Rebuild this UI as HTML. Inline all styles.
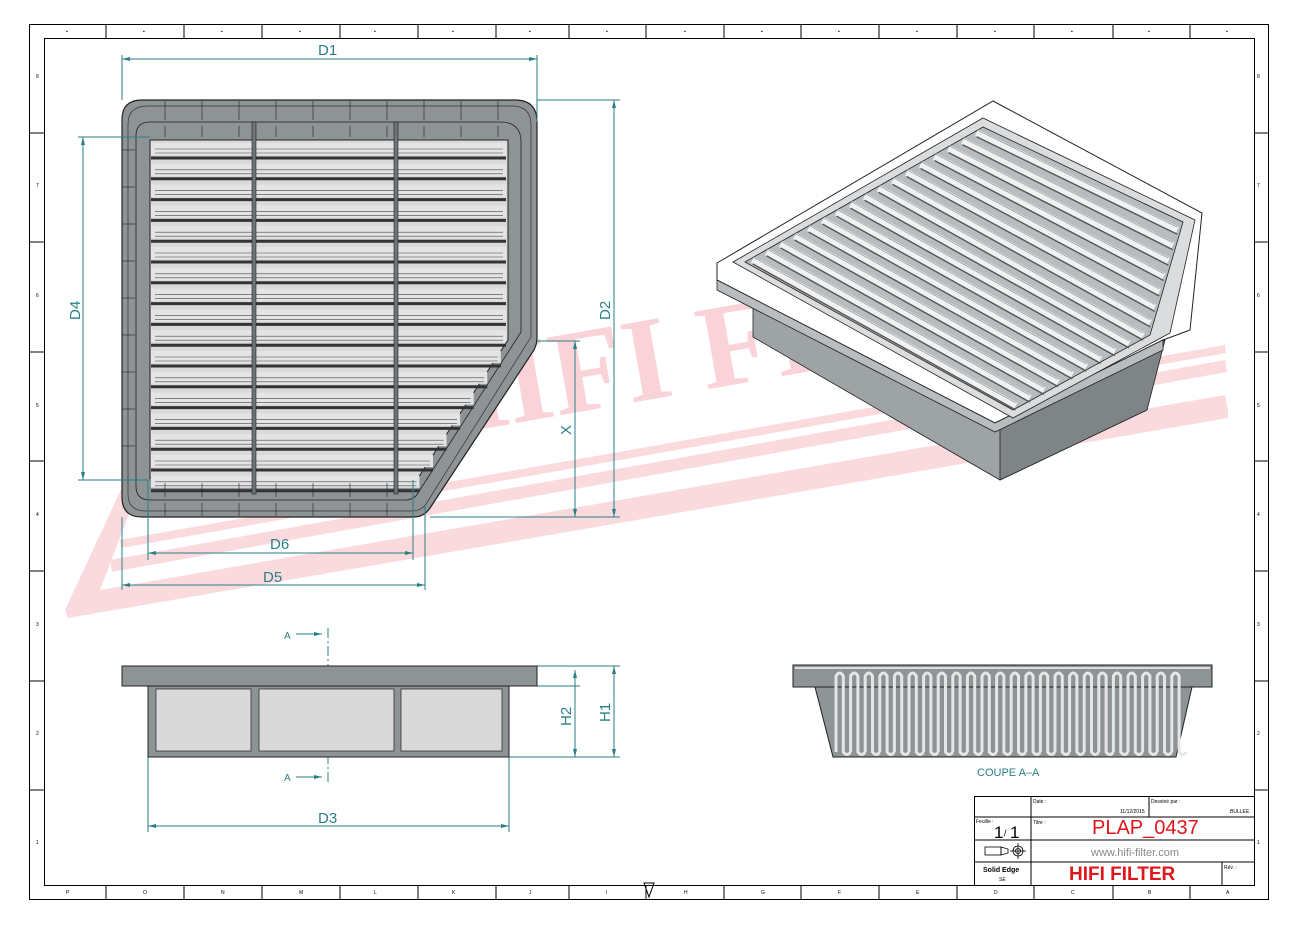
<!DOCTYPE html>
<html><head><meta charset="utf-8"><style>
html,body{margin:0;padding:0;background:#fff;}
svg{display:block;font-family:"Liberation Sans",sans-serif;}
</style></head><body>
<svg id="s" width="1300" height="926" viewBox="0 0 1300 926" xmlns="http://www.w3.org/2000/svg">
<rect width="1300" height="926" fill="#fff"/>
<!-- watermark -->
<g fill="#fadadd">
  <polygon points="65,610 130,470 145,472 100,590 1225,395 1228,410"/>
  <polygon points="110,560 1225,360 1227,372 112,572"/>
  <polygon points="120,540 1225,345 1226,353 121,548" />
  <polygon points="65,610 1228,410 1228,418 68,618"/>
  <text x="420" y="440" font-family="Liberation Serif,serif" font-weight="bold" font-size="120" transform="rotate(-10 420 440)" fill="#f9d3d7">HIFI FILTER</text>
</g>
<!-- frame -->
<rect x="29.5" y="24.5" width="1239" height="875" fill="none" stroke="#000" stroke-width="1"/>
<rect x="44.5" y="38.5" width="1210" height="847" fill="none" stroke="#000" stroke-width="1"/>
<g id="ticks" stroke="#000" stroke-width="1"></g>
<g id="tl" font-size="5" fill="#000"></g>
<!-- top view -->
<g id="top">
  <path d="M142,100 L515,100 Q537,100 537,122 L537,338 Q537,344 534,350 L430,508 Q424,517 413,517 L142,517 Q122,517 122,497 L122,120 Q122,100 142,100 Z" fill="#8e9396" stroke="#222" stroke-width="1.2"/>
  <path d="M148,106 L512,106 Q531,106 531,125 L531,337 L426,504 Q421,511 412,511 L146,511 Q128,511 128,494 L128,124 Q128,106 148,106 Z" fill="none" stroke="#333" stroke-width="0.7"/>
  <path d="M150,122 L500,122 Q521,122 521,142 L521,332 L418,493 Q414,500 405,500 L150,500 Q136,500 136,486 L136,136 Q136,122 150,122 Z" fill="none" stroke="#222" stroke-width="0.8"/>
  <path d="M150,140 L508,140 L508,340 L418,478 L150,478 Z" fill="#d9d9d9" stroke="#222" stroke-width="1"/>
  <g id="pleats"></g>
  <rect x="252" y="122" width="4" height="372" fill="#6f7477" stroke="#222" stroke-width="0.6"/>
  <rect x="394" y="122" width="4" height="372" fill="#6f7477" stroke="#222" stroke-width="0.6"/>
  <g id="ribs" stroke="#222" stroke-width="0.6"></g>
</g>
<!-- dimensions -->
<g stroke="#2a7f86" stroke-width="1" fill="none">
  <line x1="122" y1="55" x2="122" y2="100"/><line x1="537" y1="55" x2="537" y2="122"/>
  <line x1="122" y1="59" x2="537" y2="59"/>
  <line x1="537" y1="100" x2="620" y2="100"/><line x1="430" y1="517" x2="620" y2="517"/>
  <line x1="614" y1="100" x2="614" y2="517"/>
  <line x1="537" y1="341" x2="580" y2="341"/><line x1="575" y1="341" x2="575" y2="517"/>
  <line x1="78" y1="137" x2="150" y2="137"/><line x1="78" y1="480" x2="150" y2="480"/>
  <line x1="83" y1="137" x2="83" y2="480"/>
  <line x1="148" y1="480" x2="148" y2="560"/><line x1="413" y1="480" x2="413" y2="560"/>
  <line x1="148" y1="553" x2="413" y2="553"/>
  <line x1="122" y1="517" x2="122" y2="590"/><line x1="425" y1="505" x2="425" y2="590"/>
  <line x1="122" y1="585" x2="425" y2="585"/>
  <line x1="537" y1="666" x2="620" y2="666"/><line x1="509" y1="757" x2="620" y2="757"/>
  <line x1="614" y1="666" x2="614" y2="757"/>
  <line x1="537" y1="686" x2="580" y2="686"/><line x1="575" y1="670" x2="575" y2="757"/>
  <line x1="148" y1="757" x2="148" y2="832"/><line x1="509" y1="757" x2="509" y2="832"/>
  <line x1="148" y1="826" x2="509" y2="826"/>
  <line x1="296" y1="634" x2="322" y2="634"/><line x1="296" y1="777" x2="322" y2="777"/>
  <line x1="328" y1="628" x2="328" y2="785" stroke-dasharray="10,3,2,3"/>
</g>
<g fill="#2a7f86">
  <polygon points="122,59 130,57 130,61"/><polygon points="537,59 529,57 529,61"/>
  <polygon points="614,100 612,108 616,108"/><polygon points="614,517 612,509 616,509"/>
  <polygon points="575,341 573,349 577,349"/><polygon points="575,517 573,509 577,509"/>
  <polygon points="83,137 81,145 85,145"/><polygon points="83,480 81,472 85,472"/>
  <polygon points="148,553 156,551 156,555"/><polygon points="413,553 405,551 405,555"/>
  <polygon points="122,585 130,583 130,587"/><polygon points="425,585 417,583 417,587"/>
  <polygon points="614,666 612,674 616,674"/><polygon points="614,757 612,749 616,749"/>
  <polygon points="575,670 573,678 577,678"/><polygon points="575,757 573,749 577,749"/>
  <polygon points="148,826 156,824 156,828"/><polygon points="509,826 501,824 501,828"/>
  <polygon points="322,634 314,632 314,636"/><polygon points="322,777 314,775 314,779"/>
</g>
<g fill="#2a7f86" font-size="15">
  <text x="318" y="55">D1</text>
  <text x="270" y="549">D6</text>
  <text x="263" y="582">D5</text>
  <text x="318" y="823">D3</text>
  <text transform="translate(610,320) rotate(-90)">D2</text>
  <text transform="translate(80,320) rotate(-90)">D4</text>
  <text transform="translate(571,435) rotate(-90)">X</text>
  <text transform="translate(571,726) rotate(-90)">H2</text>
  <text transform="translate(610,722) rotate(-90)">H1</text>
  <text x="284" y="639" font-size="10">A</text>
  <text x="284" y="781" font-size="10">A</text>
  <text x="977" y="776" font-size="11">COUPE A–A</text>
</g>
<!-- side view -->
<rect x="122" y="666" width="415" height="20" fill="#8e9396" stroke="#222"/>
<rect x="148" y="686" width="361" height="71" fill="#8e9396" stroke="#222"/>
<rect x="156" y="689" width="95" height="62" fill="#d9d9d9" stroke="#222" stroke-width="0.7"/>
<rect x="259" y="689" width="135" height="62" fill="#d9d9d9" stroke="#222" stroke-width="0.7"/>
<rect x="401" y="689" width="101" height="62" fill="#d9d9d9" stroke="#222" stroke-width="0.7"/>
<!-- section view -->
<rect x="793" y="665" width="419" height="22" fill="#8e9396" stroke="#222"/>
<polygon points="815,687 833,757 1176,757 1192,687" fill="#8e9396" stroke="#222"/>
<g id="sec" fill="none" stroke="#e6e6e6" stroke-width="3"></g>
<!-- 3D view -->
<g stroke="#222" stroke-width="0.8">
  <polygon points="753,290 753,337 1000,480 1147,410 1165,330 1000,420" fill="#9ea3a6"/>
  <polygon points="1000,420 1000,480 1147,410 1165,340" fill="#7f8487"/>
  <polygon points="717,263 993,101 1202,213 1190,330 1163,340 995,423 717,280" fill="#fff" stroke-width="1"/>
  <polygon points="717,280 995,423 1163,340 1163,350 995,432 717,290" fill="#b9bdbf"/>
  <polygon points="733,262 983,118 1195,220 1170,333 1013,418" fill="#dadcdd"/>
  <polygon points="745,262 983,127 1183,222 1150,335 1013,410" fill="#b8bcbe"/>
</g>
<g id="p3" stroke="#333" stroke-width="0.7"></g>
<!-- title block -->
<g stroke="#000" stroke-width="1" fill="none">
  <rect x="974.5" y="796.5" width="280" height="89"/>
  <line x1="974" y1="817" x2="1254" y2="817"/>
  <line x1="974" y1="840" x2="1254" y2="840"/>
  <line x1="974" y1="862" x2="1254" y2="862"/>
  <line x1="1031" y1="796" x2="1031" y2="885"/>
  <line x1="1149" y1="796" x2="1149" y2="817"/>
  <line x1="1222" y1="862" x2="1222" y2="885"/>
</g>
<g font-size="5" fill="#000">
  <text x="1033" y="803">Date :</text><text x="1120" y="813">11/12/2015</text>
  <text x="1151" y="803">Dessiné par :</text><text x="1230" y="813">BULLEE</text>
  <text x="976" y="823">Feuille :</text><text x="1033" y="824">Titre :</text>
  <text x="1224" y="869">Rév. :</text>
  <text x="983" y="872" font-weight="bold" font-size="7">Solid Edge</text><text x="999" y="881">SE</text>
</g>
<text x="994" y="838" font-size="17">1</text><text x="1004" y="836" font-size="9">/</text><text x="1010" y="838" font-size="17">1</text>
<text x="1092" y="834" font-size="20" fill="#e0161c">PLAP_0437</text>
<text x="1091" y="856" font-size="11" fill="#888">www.hifi-filter.com</text>
<text x="1069" y="880" font-size="19" font-weight="bold" fill="#e0161c">HIFI FILTER</text>
<g stroke="#000" fill="none" stroke-width="0.8">
  <rect x="985" y="847" width="16" height="8"/><polygon points="1001,847 1008,849 1008,853 1001,855"/>
  <circle cx="1018" cy="851" r="5"/><circle cx="1018" cy="851" r="2.5"/><line x1="1010" y1="851" x2="1026" y2="851"/><line x1="1018" y1="843" x2="1018" y2="859"/>
</g>
<polygon points="644,883 654,883 649,897" fill="none" stroke="#000"/>
</svg>
<script>
var ns="http://www.w3.org/2000/svg";
function el(p,t,a){var e=document.createElementNS(ns,t);for(var k in a)e.setAttribute(k,a[k]);document.getElementById(p).appendChild(e);return e;}
var cols=[106,184,262,340,418,496,569,646,724,801,879,957,1034,1113,1190];
var bx=[68,145,223,301,376,454,531,608,686,763,840,918,996,1073,1150,1228];
var colL=["P","O","N","M","L","K","J","I","H","G","F","E","D","C","B","A"];
for(var i=0;i<cols.length;i++){el("ticks","line",{x1:cols[i],y1:24,x2:cols[i],y2:38});el("ticks","line",{x1:cols[i],y1:885,x2:cols[i],y2:899});}
for(var i=0;i<bx.length;i++){var t=el("tl","text",{x:bx[i]-2,y:894});t.textContent=colL[i];var t2=el("tl","text",{x:bx[i]-2,y:33});t2.textContent="▪";}
var rows=[133,242,352,461,571,681,790];
for(var i=0;i<rows.length;i++){el("ticks","line",{x1:29,y1:rows[i],x2:44,y2:rows[i]});el("ticks","line",{x1:1254,y1:rows[i],x2:1268,y2:rows[i]});}
var rl=[78,187,297,407,516,626,735,844];
for(var i=0;i<rl.length;i++){var t=el("tl","text",{x:1257,y:rl[i]});t.textContent=8-i;var t2=el("tl","text",{x:36,y:rl[i]});t2.textContent=8-i;}
for(var y=143;y<476;y+=20.8){
  var xr = y<340?506:508-(y-340)*(90/138);
  el("pleats","rect",{x:151,y:y,width:xr-151,height:12,fill:"#e4e4e4"});
  el("pleats","line",{x1:151,y1:y+15,x2:xr,y2:y+15,stroke:"#333","stroke-width":3});
  el("pleats","line",{x1:155,y1:y+6,x2:xr-3,y2:y+6,stroke:"#444","stroke-width":0.6});
  el("pleats","line",{x1:155,y1:y+10,x2:xr-3,y2:y+10,stroke:"#444","stroke-width":0.6});
}
for(var x=165;x<520;x+=37){el("ribs","line",{x1:x,y1:126,x2:x,y2:137});el("ribs","line",{x1:x,y1:101,x2:x,y2:120});}
for(var x=165;x<410;x+=37){el("ribs","line",{x1:x,y1:483,x2:x,y2:497});el("ribs","line",{x1:x,y1:503,x2:x,y2:516});}
for(var y=150;y<480;y+=37){el("ribs","line",{x1:122,y1:y,x2:135,y2:y});}
for(var x=836;x<1172;x+=14.6){el("sec","path",{d:"M"+x+",752 L"+x+",676 Q"+(x+3.6)+",670 "+(x+7.3)+",676 L"+(x+7.3)+",752 Q"+(x+11)+",757 "+(x+14.6)+",752"});}
el("sec","line",{x1:795,y1:668,x2:1210,y2:668,stroke:"#ddd","stroke-width":2});
// 3D pleats: parallel to top-right edge, stacked from top-right edge toward bottom-left
function lerp(a,b,t){return [a[0]+(b[0]-a[0])*t,a[1]+(b[1]-a[1])*t];}
var A=[983,127],B=[745,262],R1=[1183,222],R2=[1150,335],R3=[1013,410];
var n=17;
for(var k=0;k<n;k++){
  var t=(k+0.6)/n;
  var s=lerp(A,B,t);
  var e;
  var L1=118,L2=156,u=t*(L1+L2);
  if(u<L1) e=lerp(R1,R2,u/L1); else e=lerp(R2,R3,(u-L1)/L2);
  var dx=e[0]-s[0],dy=e[1]-s[1];
  el("p3","line",{x1:s[0]+2,y1:s[1]+1,x2:e[0]-3,y2:e[1]-1,stroke:"#f0f1f2","stroke-width":7});
  el("p3","line",{x1:s[0]+2,y1:s[1]+5,x2:e[0]-3,y2:e[1]+3,stroke:"#555","stroke-width":1.4});
  el("p3","line",{x1:s[0]+2,y1:s[1]-2,x2:e[0]-3,y2:e[1]-4,stroke:"#888","stroke-width":0.6});
}
</script>
</body></html>
